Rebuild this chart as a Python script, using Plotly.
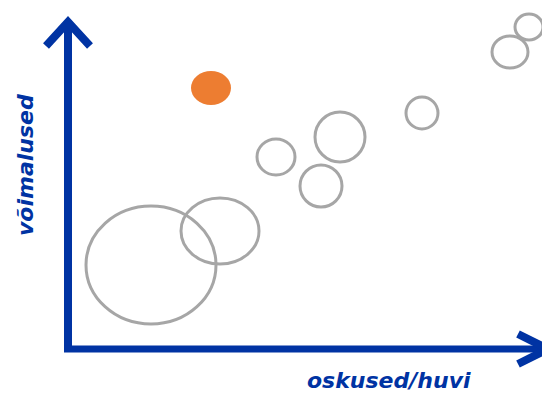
import plotly.graph_objects as go

# Bubble positions (units from the axis origin) and half-widths / half-heights
bubble_x = [83, 152, 208, 253, 272, 354, 442, 461]
bubble_y = [84, 118, 192, 163, 212, 236, 297, 322]
bubble_rx = [65, 39, 19, 21, 25, 16, 18, 14]
bubble_ry = [59, 33, 18, 21, 25, 16, 16, 13]

# Highlighted (orange) bubble
focus_x = [143]
focus_y = [261]
focus_rx = [20]
focus_ry = [17]

x_label = "oskused/huvi"
y_label = "võimalused"

BLUE = "#0033A3"
GREY = "#A6A6A6"
ORANGE = "#ED7D31"

fig = go.Figure()

# axes drawn as thick arrows
x_end, y_end = 480, 327
fig.add_trace(go.Scatter(x=[0, 0], y=[-1, y_end], mode="lines",
                         line=dict(color=BLUE, width=8), hoverinfo="skip"))
fig.add_trace(go.Scatter(x=[-4, x_end], y=[0, 0], mode="lines",
                         line=dict(color=BLUE, width=7), hoverinfo="skip"))
fig.add_trace(go.Scatter(x=[-22, 0, 22], y=[y_end - 24, y_end, y_end - 24], mode="lines",
                         line=dict(color=BLUE, width=8), hoverinfo="skip"))
fig.add_trace(go.Scatter(x=[x_end - 30, x_end, x_end - 30], y=[15, 0, -15], mode="lines",
                         line=dict(color=BLUE, width=8), hoverinfo="skip"))

shapes = []
for x, y, rx, ry in zip(bubble_x, bubble_y, bubble_rx, bubble_ry):
    shapes.append(dict(type="circle", xref="x", yref="y",
                       x0=x - rx, x1=x + rx, y0=y - ry, y1=y + ry,
                       line=dict(color=GREY, width=3), fillcolor="rgba(0,0,0,0)"))
for x, y, rx, ry in zip(focus_x, focus_y, focus_rx, focus_ry):
    shapes.append(dict(type="circle", xref="x", yref="y",
                       x0=x - rx, x1=x + rx, y0=y - ry, y1=y + ry,
                       line=dict(width=0), fillcolor=ORANGE))

label_font = dict(family="DejaVu Sans", size=22, color=BLUE, weight="bold", style="italic")

# the page body has an 8px margin, so the figure is 8px smaller and ranges are shifted
fig.update_layout(
    width=542, height=386, autosize=False,
    margin=dict(l=0, r=0, t=0, b=0),
    paper_bgcolor="white", plot_bgcolor="white",
    showlegend=False,
    shapes=shapes,
    xaxis=dict(range=[-60, 482], visible=False, fixedrange=True),
    yaxis=dict(range=[-45, 341], visible=False, fixedrange=True),
    annotations=[
        dict(x=321, y=-31, xref="x", yref="y", text=x_label, showarrow=False, font=label_font),
        dict(x=-43, y=184, xref="x", yref="y", text=y_label, showarrow=False,
             textangle=-90, font=label_font),
    ],
)

fig.write_html("out.html")
